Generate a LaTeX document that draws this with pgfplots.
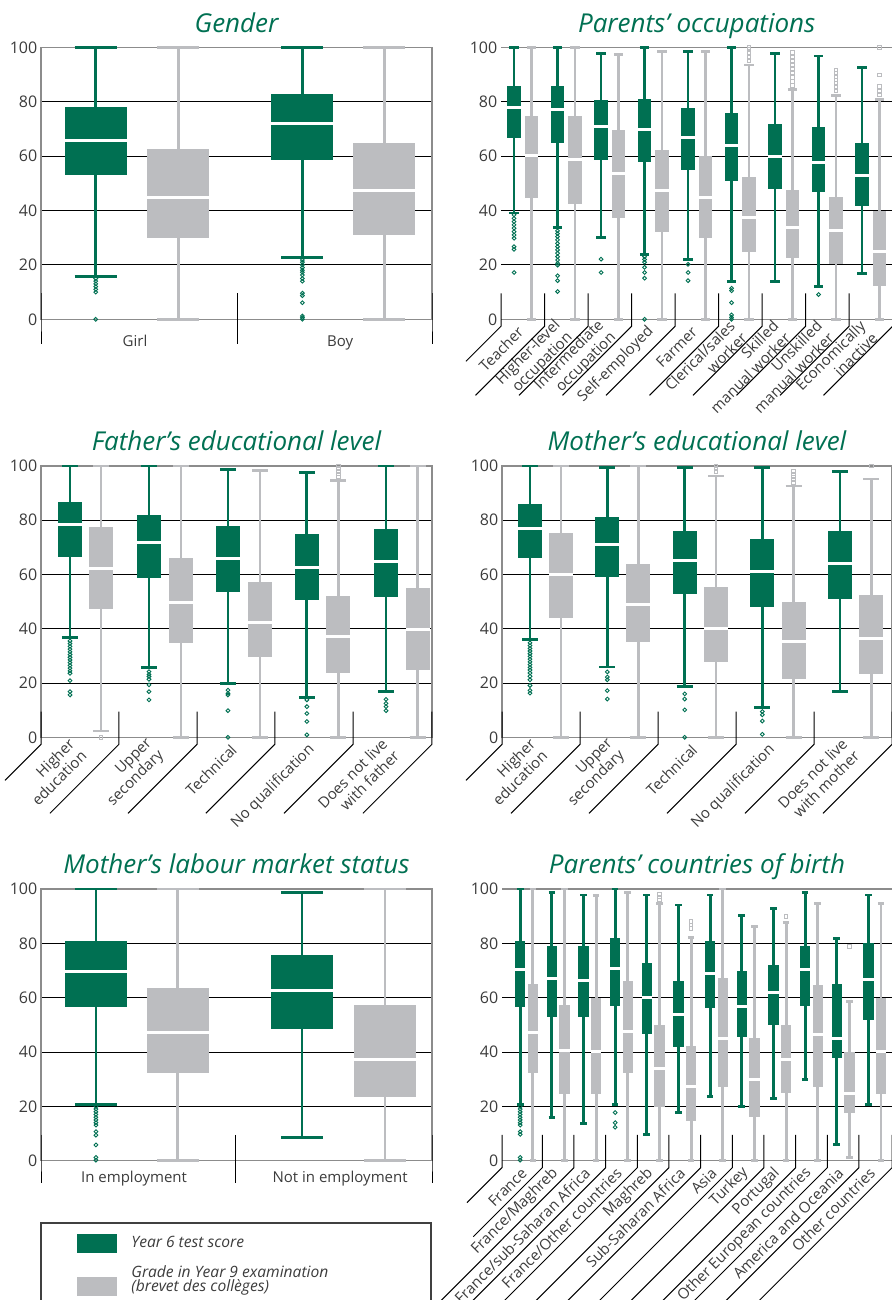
\documentclass[border=0pt]{standalone}
\usepackage{pgfplots}
\pgfplotsset{compat=1.18}
\usepgfplotslibrary{statistics}
\usepackage{fontspec}
\setmainfont{Open Sans}
\setsansfont{Open Sans}
\definecolor{ygreen}{RGB}{0,112,82}
\definecolor{ygray}{RGB}{188,189,192}
\definecolor{tickc}{RGB}{60,60,60}
\definecolor{framec}{RGB}{140,140,140}
\tikzset{sepline/.style={black, line width=0.5pt}}
\newcommand{\G}[6]{\addplot[gbox, boxplot prepared={draw position=#1, lower whisker=#2, lower quartile=#3, median=#4, upper quartile=#5, upper whisker=#6}] coordinates {};}
\newcommand{\Y}[6]{\addplot[ybox, boxplot prepared={draw position=#1, lower whisker=#2, lower quartile=#3, median=#4, upper quartile=#5, upper whisker=#6}] coordinates {};}
\newcommand{\SepA}[2]{\draw[sepline] (axis cs:#1,9.5) -- (axis cs:#1,0) -- ++(0pt,-#2);}
\newcommand{\SepR}[2]{\draw[sepline] (axis cs:#1,9.5) -- (axis cs:#1,0) -- ++(0pt,-3.5pt) -- ++(-#2,-#2);}
\pgfplotsset{
  panel/.style={scale only axis, anchor=south west, clip=false,
    /tikz/line width=1.4pt,
    ymin=0, ymax=100, boxplot/draw direction=y,
    ytick={0,20,40,60,80,100}, ymajorgrids, grid style={black, line width=0.5pt},
    major tick length=0pt, axis line style={framec, line width=0.75pt},
    yticklabel style={font=\fontsize{8}{9}\selectfont, text=tickc, inner xsep=1.2pt},
    /pgf/number format/assume math mode=true,
    title style={font=\fontsize{13}{15}\selectfont\itshape, text=ygreen, at={(0.5,1)}, anchor=base, yshift=1.6pt},
    xticklabel style={font=\fontsize{7.5}{8.5}\selectfont, text=tickc},
  },
  noleft/.style={separate axis lines, y axis line style={draw=none}},
  rotlab/.style={xticklabel style={rotate=45, anchor=east, align=right}, xticklabel shift=2.2pt},
  gbox/.style={ygreen, line width=1.4pt, boxplot/every box/.style={draw=none, fill=ygreen},
    boxplot/every whisker/.style={line width=1.4pt},
    boxplot/every median/.style={draw=white, line width=1.5pt}},
  ybox/.style={ygray, line width=1.4pt, boxplot/every box/.style={draw=none, fill=ygray},
    boxplot/every whisker/.style={line width=1.4pt},
    boxplot/every median/.style={draw=white, line width=1.5pt}},
  gout/.style={only marks, mark=o, mark size=0.95pt, ygreen, mark options={line width=0.45pt}},
  yout/.style={only marks, mark=square, mark size=0.9pt, ygray, mark options={line width=0.45pt}},
}
\begin{document}
\begin{tikzpicture}
\path[use as bounding box] (0pt,0pt) rectangle (446pt,650pt);

% ---------------- Gender
\begin{axis}[panel, at={(20.5pt,490.35pt)}, width=195.5pt, height=136pt,
  xmin=-0.5, xmax=1.5, title={Gender},
  xtick={-0.019,1.03}, xticklabels={Girl,Boy},
  xticklabel style={anchor=base}, xticklabel shift=13.7pt,
  boxplot/box extend=0.317, boxplot/whisker extend=0.215]
\G{-0.22}{15.8}{53.1}{65.8}{78.1}{100}
\Y{0.202}{0}{30.0}{44.9}{62.6}{100}
\G{0.837}{22.8}{58.7}{72.1}{82.8}{100}
\Y{1.255}{0}{31.1}{47.4}{64.7}{100}
\addplot[gout] coordinates {(-0.22,15) (-0.22,14) (-0.22,13) (-0.22,12) (-0.22,11) (-0.22,10) (-0.22,0)};
\addplot[gout] coordinates {(0.837,21.8) (0.837,21) (0.837,20) (0.837,19) (0.837,18) (0.837,17.3) (0.837,16.3) (0.837,15) (0.837,14) (0.837,9.6) (0.837,8.7) (0.837,6.1) (0.837,1.2) (0.837,0.6) (0.837,0)};
\SepA{-0.5}{12.5pt}\SepA{0.503}{12.5pt}\SepA{1.5}{12.5pt}
\end{axis}

% ---------------- Parents' occupations
\begin{axis}[panel, noleft, rotlab, at={(250.5pt,490.35pt)}, width=195.75pt, height=136pt,
  xmin=-0.5, xmax=8.5, title={Parents’ occupations},
  xtick={0.08,1.08,2.08,3.08,4.08,5.08,6.08,7.08,8.08},
  xticklabels={Teacher,{Higher-level\\occupation},{Intermediate\\occupation},Self-employed,Farmer,{Clerical/sales\\worker},{Skilled\\manual worker},{Unskilled\\manual worker},{Economically\\inactive}},
  boxplot/box extend=0.31, boxplot/whisker extend=0.21]
\G{-0.2}{39.1}{66.8}{77.9}{85.8}{100}
\Y{0.2}{0}{44.7}{60.2}{74.8}{100}
\G{0.8}{33.8}{64.9}{77}{85.8}{100}
\Y{1.2}{0}{42.5}{58.9}{74.8}{100}
\G{1.8}{30.1}{58.7}{71}{80.6}{97.8}
\Y{2.2}{0}{37.4}{53.7}{69.6}{97.3}
\G{2.8}{23.9}{58}{69.9}{80.9}{100}
\Y{3.2}{0}{32.2}{47.4}{62.3}{98.5}
\G{3.8}{22.1}{54.7}{66.9}{77.6}{98.5}
\Y{4.2}{0}{30}{44.9}{60}{98.5}
\G{4.8}{14}{51}{63.8}{75.7}{100}
\Y{5.2}{0}{24.9}{37.5}{52.3}{93.5}
\G{5.8}{14}{48}{59.8}{71.7}{97.8}
\Y{6.2}{0}{22.5}{33.8}{47.5}{84.6}
\G{6.8}{12.1}{46.9}{57.7}{70.6}{96.8}
\Y{7.2}{0}{20.2}{32.5}{44.9}{82.4}
\G{7.8}{16.9}{41.8}{52.8}{64.7}{92.6}
\Y{8.2}{0}{12.3}{24.9}{39.8}{80.9}
\addplot[gout] coordinates {(-0.2,38.4) (-0.2,37.1) (-0.2,35.9) (-0.2,34.7) (-0.2,33.5) (-0.2,32.2) (-0.2,31) (-0.2,29.8) (-0.2,26.7) (-0.2,25.7) (-0.2,17.2)
 (0.8,32.5) (0.8,31.5) (0.8,30.4) (0.8,29.2) (0.8,27.9) (0.8,26.7) (0.8,25.5) (0.8,24.3) (0.8,23) (0.8,21.8) (0.8,20.6) (0.8,19.9) (0.8,16) (0.8,14.2) (0.8,10.2)
 (1.8,22.1) (1.8,17.2)
 (2.8,23) (2.8,22) (2.8,21) (2.8,19.1) (2.8,17.2) (2.8,15.1) (2.8,0)
 (3.8,20.2) (3.8,17.2) (3.8,14.2)
 (4.8,11.4) (4.8,10.5) (4.8,6.1) (4.8,1.6) (4.8,0.7) (4.8,0)
 (6.8,9.1)};
\addplot[yout] coordinates {(5.2,95) (5.2,96.5) (5.2,98) (5.2,99.3) (5.2,100)
 (6.2,86) (6.2,87.5) (6.2,89) (6.2,90.5) (6.2,92) (6.2,93.5) (6.2,95) (6.2,96.5) (6.2,98)
 (7.2,84) (7.2,85.5) (7.2,86.8) (7.2,88) (7.2,89.2) (7.2,90.4) (7.2,91.7)
 (8.2,82.5) (8.2,84) (8.2,85.5) (8.2,89.8) (8.2,100)};
\SepR{-0.5}{17.5pt}
\SepR{0.5}{34.5pt}\SepR{1.5}{34.5pt}\SepR{2.5}{34.5pt}\SepR{3.5}{34.5pt}
\SepR{4.5}{34.5pt}\SepR{5.5}{34.5pt}\SepR{6.5}{34.5pt}\SepR{7.5}{34.5pt}\SepR{8.5}{34.5pt}
\end{axis}

% ---------------- Father's educational level
\begin{axis}[panel, rotlab, at={(20.5pt,281.35pt)}, width=195.5pt, height=135.65pt,
  xmin=-0.5, xmax=4.5, title={Father’s educational level},
  xtick={0.04,1.04,2.04,3.04,4.04},
  xticklabels={{Higher\\education},{Upper\\secondary},Technical,No qualification,{Does not live\\with father}},
  boxplot/box extend=0.303, boxplot/whisker extend=0.205]
\G{-0.129}{36.9}{66.6}{78.3}{86.7}{100}
\Y{0.267}{2.3}{47.4}{62.2}{77.4}{100}
\G{0.881}{25.8}{58.8}{71.9}{81.8}{100}
\Y{1.29}{0}{34.9}{49.8}{66.1}{100}
\G{1.891}{19.9}{53.7}{66}{77.9}{98.8}
\Y{2.3}{0}{29.7}{42.4}{57.2}{98.3}
\G{2.9}{14.7}{50.7}{62.5}{74.8}{97.7}
\Y{3.302}{0}{23.6}{37.1}{52.1}{94.7}
\G{3.912}{17}{51.8}{64.9}{76.7}{100}
\Y{4.317}{0}{24.9}{39.7}{55}{100}
\addplot[gout] coordinates {(-0.129,35.5) (-0.129,34.5) (-0.129,33.5) (-0.129,32.5) (-0.129,31.5) (-0.129,30.5) (-0.129,29.5) (-0.129,28.5) (-0.129,27.5) (-0.129,26.5) (-0.129,25.5) (-0.129,24.5) (-0.129,23.6) (-0.129,20.9) (-0.129,16.8) (-0.129,15.6)
 (0.881,24.2) (0.881,23.2) (0.881,22.4) (0.881,21.4) (0.881,19.3) (0.881,16.8) (0.881,13.8)
 (1.891,17.4) (1.891,16.2) (1.891,15.6) (1.891,9.8) (1.891,0)
 (2.9,13.8) (2.9,11.3) (2.9,8.8) (2.9,5.8) (2.9,0.9)
 (3.912,14) (3.912,12.5) (3.912,11.3) (3.912,9.8)};
\addplot[yout] coordinates {(0.267,0) (3.302,96) (3.302,97) (3.302,98) (3.302,99) (3.302,100)};
\SepR{-0.5}{18pt}
\SepR{0.497}{34.5pt}\SepR{1.495}{34.5pt}\SepR{2.49}{34.5pt}\SepR{3.49}{34.5pt}\SepR{4.5}{34.5pt}
\end{axis}

% ---------------- Mother's educational level
\begin{axis}[panel, rotlab, at={(251pt,281.35pt)}, width=195pt, height=135.65pt,
  xmin=-0.5, xmax=4.5, title={Mother’s educational level},
  xtick={0.04,1.04,2.04,3.04,4.04},
  xticklabels={{Higher\\education},{Upper\\secondary},Technical,No qualification,{Does not live\\with mother}},
  boxplot/box extend=0.304, boxplot/whisker extend=0.205]
\G{-0.141}{35.9}{66.2}{77}{86}{100}
\Y{0.256}{0}{44}{60}{75.2}{100}
\G{0.85}{25.9}{59.1}{71.1}{81.2}{99.3}
\Y{1.247}{0}{35.1}{48.9}{63.7}{100}
\G{1.842}{18.8}{52.8}{65.2}{76}{99.3}
\Y{2.244}{0}{27.7}{40}{55.3}{96.3}
\G{2.837}{11.1}{48}{61}{73.1}{99.3}
\Y{3.24}{0}{21.4}{35.2}{50}{92.6}
\G{3.833}{17}{50.9}{64.1}{76}{98.1}
\Y{4.235}{0}{23.5}{36.4}{52.6}{95.2}
\addplot[gout] coordinates {(-0.141,34.8) (-0.141,33.8) (-0.141,32.8) (-0.141,31.8) (-0.141,30.8) (-0.141,29.8) (-0.141,28.8) (-0.141,27.8) (-0.141,26.8) (-0.141,25.8) (-0.141,24.8) (-0.141,23.7) (-0.141,22.5) (-0.141,21.2) (-0.141,19.1) (-0.141,17.3) (-0.141,16.3)
 (0.85,24.1) (0.85,22.2) (0.85,21.2) (0.85,17.2) (0.85,14.1)
 (1.842,16) (1.842,14.1) (1.842,10.1) (1.842,0)
 (2.837,9.5) (2.837,8.3) (2.837,6) (2.837,1.1)};
\addplot[yout] coordinates {(2.244,98) (2.244,99) (2.244,100) (3.24,94) (3.24,95) (3.24,96) (3.24,97) (3.24,98) (4.235,100)};
\SepR{-0.5}{18pt}
\SepR{0.5}{34.5pt}\SepR{1.5}{34.5pt}\SepR{2.5}{34.5pt}\SepR{3.5}{34.5pt}\SepR{4.5}{34.5pt}
\end{axis}

% ---------------- Mother's labour market status
\begin{axis}[panel, at={(20.5pt,69.65pt)}, width=195.5pt, height=135.85pt,
  xmin=-0.5, xmax=1.5, title={Mother’s labour market status},
  xtick={-0.024,1.03}, xticklabels={In employment,Not in employment},
  xticklabel style={anchor=base}, xticklabel shift=11pt,
  boxplot/box extend=0.317, boxplot/whisker extend=0.215,
  legend style={at={(axis description cs:0.0895,-0.259)}, anchor=north west, draw=none, fill=none,
    inner sep=0pt, row sep=3.25pt, font=\fontsize{7.8}{7}\selectfont\itshape, text=tickc,
    cells={anchor=west, align=left, inner sep=0pt}}]
\addlegendimage{legend image code/.code={\fill[ygreen, draw=none] (0pt,-4.75pt) rectangle (20pt,4.75pt); \path[draw=none] (0pt,0pt) -- (25pt,0pt);}}
\addlegendentry{Year 6 test score}
\addlegendimage{legend image code/.code={\fill[ygray, draw=none] (0pt,-8pt) rectangle (20pt,1.5pt); \path[draw=none] (0pt,0pt) -- (25pt,0pt);}}
\addlegendentry{Grade in Year 9 examination\\(brevet des collèges)}
\G{-0.219}{20.7}{56.7}{69.7}{80.9}{100}
\Y{0.2}{0}{32.1}{47.2}{63.6}{100}
\G{0.835}{8.6}{48.6}{62.7}{75.6}{98.8}
\Y{1.26}{0}{23.6}{37.3}{57.3}{100}
\addplot[gout] coordinates {(-0.219,19.9) (-0.219,19) (-0.219,18) (-0.219,17) (-0.219,16) (-0.219,15) (-0.219,14) (-0.219,13.1) (-0.219,10.7) (-0.219,9.4) (-0.219,5.8) (-0.219,1.2) (-0.219,0.2)};
\SepA{-0.5}{11.25pt}\SepA{0.497}{11.25pt}\SepA{1.5}{11.25pt}
\draw[black!75, line width=0.6pt] (axis description cs:0,-0.2294) rectangle (axis description cs:0.9975,-0.56);
\end{axis}

% ---------------- Parents' countries of birth
\begin{axis}[panel, noleft, rotlab, at={(251pt,69.65pt)}, width=195pt, height=135.85pt,
  xmin=-0.774, xmax=11.545, title={Parents’ countries of birth},
  xtick={0.1,1.1,2.1,3.1,4.1,5.1,6.1,7.1,8.1,9.1,10.1,11.1},
  xticklabels={France,France/Maghreb,France/sub-Saharan Africa,France/Other countries,Maghreb,Sub-Saharan Africa,Asia,Turkey,Portugal,Other European countries,America and Oceania,Other countries},
  boxplot/box extend=0.33, boxplot/whisker extend=0.21]
\G{-0.2}{20.7}{56.7}{70.2}{80.9}{100}
\Y{0.2}{0}{32.4}{47.2}{65}{100}
\G{0.8}{16}{53}{67.1}{79}{98.8}
\Y{1.2}{0}{24.5}{40.4}{57.3}{100}
\G{1.8}{13.7}{53}{66.5}{79}{97.8}
\Y{2.2}{0}{24.5}{40.1}{59.8}{97.5}
\G{2.8}{20.7}{56.9}{70.8}{81.8}{100}
\Y{3.2}{0}{32.4}{47.5}{66.1}{98.8}
\G{3.8}{9.7}{46.7}{60.1}{72.6}{97.8}
\Y{4.2}{0}{19.9}{34}{49.9}{94.7}
\G{4.8}{17.8}{42}{53.9}{66.1}{94.1}
\Y{5.2}{0}{14.7}{27.2}{42.2}{82.2}
\G{5.8}{23.6}{56.1}{69}{80.9}{97.8}
\Y{6.2}{0}{27.2}{45}{67.1}{100}
\G{6.8}{19.9}{45.6}{56.9}{69.8}{90.1}
\Y{7.2}{0}{16.2}{29.9}{45}{86.1}
\G{7.8}{22.8}{49.9}{62}{72}{92.9}
\Y{8.2}{0}{25}{37.3}{49.9}{87.6}
\G{8.8}{29.9}{56.9}{70.2}{79}{98.8}
\Y{9.2}{0}{27.2}{46.5}{64.7}{94.7}
\G{9.8}{6}{37.9}{45}{64.9}{81.8}
\Y{10.2}{1.2}{17.4}{24.8}{40.1}{58.5}
\G{10.8}{20.7}{51.8}{66.7}{80}{97.8}
\Y{11.2}{0}{24.5}{40.1}{59.8}{94.7}
\addplot[gout] coordinates {(-0.2,19.9) (-0.2,19) (-0.2,18) (-0.2,17) (-0.2,16) (-0.2,15) (-0.2,14) (-0.2,13.1) (-0.2,10.7) (-0.2,9.7) (-0.2,1.2) (-0.2,0.2)
 (2.8,17.7) (2.8,14) (2.8,12.3)};
\addplot[yout] coordinates {(4.2,96) (4.2,97) (4.2,98) (5.2,85.5) (5.2,86.7) (5.2,88) (8.2,89.8) (10.2,78.8)};
\SepR{-0.774}{17.5pt}
\SepR{0.5}{34.5pt}
\SepR{1.5}{66.5pt}\SepR{2.5}{66.5pt}\SepR{3.5}{66.5pt}\SepR{4.5}{66.5pt}\SepR{5.5}{66.5pt}
\SepR{6.5}{66.5pt}\SepR{7.5}{66.5pt}\SepR{8.5}{66.5pt}\SepR{9.5}{66.5pt}\SepR{10.5}{66.5pt}\SepR{11.545}{66.5pt}
\end{axis}
\end{tikzpicture}
\end{document}
